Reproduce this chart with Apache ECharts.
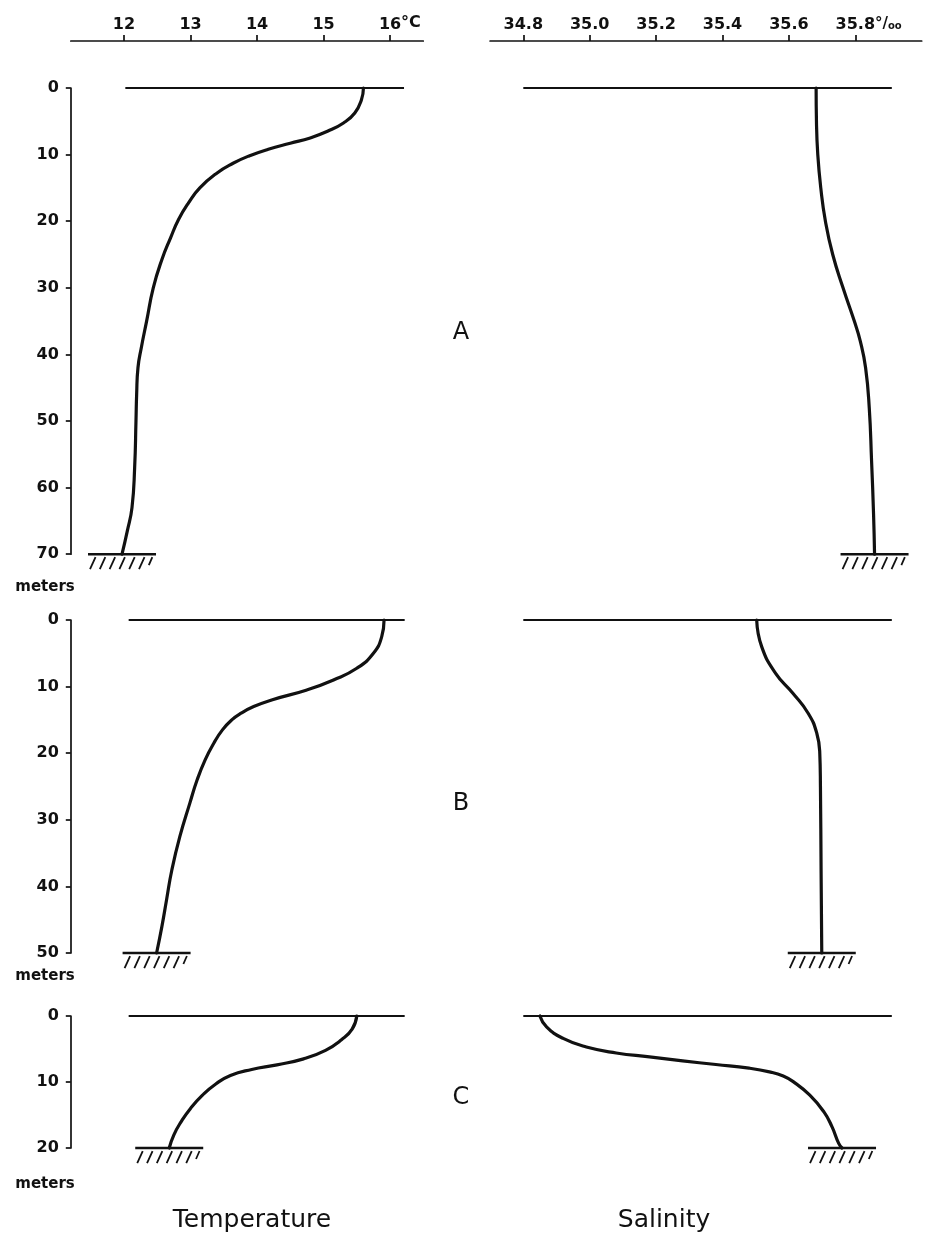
<!DOCTYPE html>
<html>
<head>
<meta charset="utf-8">
<script src="https://cdn.jsdelivr.net/npm/echarts@6/dist/echarts.min.js"></script>
<style>
  html, body { margin: 0; padding: 0; background: #fff; }
  #chart { width: 932px; height: 1250px; }
</style>
</head>
<body>
<div id="chart"></div>
<script>
// Tick labels of the two shared top axes
const tempTicks = [12, 13, 14, 15, 16];
const salTicks = [34.8, 35.0, 35.2, 35.4, 35.6, 35.8];

// Stations and their bottom depth (m)
const stations = ['A', 'B', 'C'];
const bottomDepth = [70, 50, 20];

// Station A – temperature (°C) and salinity (‰) against depth (m)
const tempA_depth = [0, 1.75, 3.75, 5.25, 6.5, 7.5, 8.3, 9.2, 10.2, 11.3, 12.75, 15, 17.25, 19.75, 22.5, 25.75, 30, 35, 39, 42, 46, 50, 57, 63, 66.5, 70];
const tempA = [15.60, 15.57, 15.47, 15.30, 15.06, 14.80, 14.50, 14.17, 13.88, 13.64, 13.40, 13.14, 12.97, 12.82, 12.70, 12.57, 12.44, 12.34, 12.26, 12.21, 12.19, 12.18, 12.16, 12.12, 12.05, 11.97];
const salA_depth = [0, 5, 10, 15, 20, 25, 30, 35, 38, 42, 48, 56, 64, 70];
const salA = [35.682, 35.683, 35.687, 35.696, 35.710, 35.732, 35.763, 35.797, 35.815, 35.831, 35.842, 35.849, 35.855, 35.858];

// Station B
const tempB_depth = [0, 2.5, 5, 7.25, 9, 10.5, 12, 13, 14, 15, 16.5, 18.5, 21, 24, 27.5, 32.5, 37.5, 42, 46, 50];
const tempB = [15.91, 15.875, 15.75, 15.50, 15.15, 14.75, 14.22, 13.95, 13.76, 13.62, 13.48, 13.35, 13.22, 13.10, 12.99, 12.84, 12.72, 12.64, 12.57, 12.49];
const salB_depth = [0, 4, 8, 11, 14, 17, 20, 25, 38, 50];
const salB = [35.503, 35.518, 35.560, 35.612, 35.658, 35.684, 35.693, 35.695, 35.697, 35.699];

// Station C
const tempC_depth = [0, 2, 3.6, 5.2, 6.5, 7.4, 8.1, 9.0, 10.3, 12, 14, 16, 18, 20];
const tempC = [15.50, 15.43, 15.27, 15.03, 14.70, 14.30, 13.92, 13.60, 13.38, 13.18, 13.00, 12.86, 12.75, 12.68];
const salC_depth = [0, 1.65, 3.4, 4.7, 5.6, 6.2, 6.8, 7.35, 7.9, 8.5, 9.1, 9.95, 12.0, 14.5, 16.8, 19.3, 20];
const salC = [34.85, 34.87, 34.92, 34.99, 35.08, 35.18, 35.28, 35.38, 35.48, 35.545, 35.583, 35.613, 35.663, 35.705, 35.73, 35.75, 35.76];

// Extent of the sea-surface line in each panel
const surfaceTemp = [[12.02, 16.21], [12.07, 16.22], [12.07, 16.22]];
const surfaceSal = [[34.80, 35.91], [34.80, 35.91], [34.80, 35.91]];

const tempProfiles = [[tempA, tempA_depth], [tempB, tempB_depth], [tempC, tempC_depth]];
const salProfiles = [[salA, salA_depth], [salB, salB_depth], [salC, salC_depth]];

const ink = '#111';
const font = 'DejaVu Sans';
const panelTop = [88, 620, 1016];
const pxPerMeter = [6.66, 6.66, 6.6];

const zip = (vals, depths) => vals.map((v, k) => [v, depths[k]]);

// Sea floor: a short bar with hatching beneath, centred on the profile end
function seaFloor(params, api) {
  const p = api.coord([api.value(0), api.value(1)]);
  const half = 34;
  const children = [{
    type: 'line',
    shape: { x1: p[0] - half, y1: p[1], x2: p[0] + half, y2: p[1] },
    style: { stroke: ink, lineWidth: 2.6 }
  }];
  for (let k = 0; k < 7; k++) {
    const x = p[0] - half + 2 + k * 9.8;
    const short = k === 6;
    children.push({
      type: 'line',
      shape: { x1: x, y1: p[1] + (short ? 11 : 15), x2: x + (short ? 3.5 : 5.5), y2: p[1] + 3 },
      style: { stroke: ink, lineWidth: 1.8 }
    });
  }
  return { type: 'group', children };
}

const grids = [], xAxes = [], yAxes = [], series = [];

stations.forEach((st, i) => {
  const h = bottomDepth[i] * pxPerMeter[i];
  const top = panelTop[i];
  const first = i === 0;
  // temperature panel, salinity panel
  grids.push({ left: 70.8, top: top, width: 352.5, height: h });
  grids.push({ left: 490.1, top: top, width: 431.6, height: h });

  const axisCommon = {
    type: 'value', position: 'top', offset: top - 41, show: first,
    axisLine: { show: true, onZero: false, lineStyle: { color: ink, width: 1.7 } },
    splitLine: { show: false }
  };
  xAxes.push(Object.assign({}, axisCommon, {
    gridIndex: 2 * i, min: 11.2, max: 16.5,
    axisTick: { show: true, customValues: tempTicks, length: 6, lineStyle: { color: ink, width: 1.7 } },
    axisLabel: { customValues: tempTicks, margin: 8, color: ink, fontFamily: font, fontWeight: 'bold', fontSize: 16 }
  }));
  xAxes.push(Object.assign({}, axisCommon, {
    gridIndex: 2 * i + 1, min: 34.7, max: 36.0,
    axisTick: { show: true, customValues: salTicks, length: 6, lineStyle: { color: ink, width: 1.7 } },
    axisLabel: { customValues: salTicks, margin: 8, color: ink, fontFamily: font, fontWeight: 'bold', fontSize: 16,
      formatter: v => v.toFixed(1) }
  }));

  const depthAxis = {
    type: 'value', inverse: true, min: 0, max: bottomDepth[i], interval: 10,
    axisLine: { show: true, onZero: false, lineStyle: { color: ink, width: 1.7 } },
    axisTick: { show: true, length: 5, lineStyle: { color: ink, width: 1.7 } },
    axisLabel: { margin: 12, color: ink, fontFamily: font, fontWeight: 'bold', fontSize: 16 },
    splitLine: { show: false }
  };
  yAxes.push(Object.assign({ gridIndex: 2 * i }, depthAxis));
  yAxes.push(Object.assign({ gridIndex: 2 * i + 1, show: false }, depthAxis));

  const panels = [
    { idx: 2 * i, surf: surfaceTemp[i], prof: tempProfiles[i] },
    { idx: 2 * i + 1, surf: surfaceSal[i], prof: salProfiles[i] }
  ];
  panels.forEach(pn => {
    series.push({
      type: 'line', xAxisIndex: pn.idx, yAxisIndex: pn.idx, clip: false,
      data: [[pn.surf[0], 0], [pn.surf[1], 0]],
      showSymbol: false, symbol: 'none', silent: true,
      lineStyle: { color: ink, width: 2 }
    });
    const pts = zip(pn.prof[0], pn.prof[1]);
    series.push({
      type: 'line', xAxisIndex: pn.idx, yAxisIndex: pn.idx, clip: false,
      data: pts, showSymbol: false, symbol: 'none', silent: true, smooth: 0.5,
      lineStyle: { color: ink, width: 3.2, cap: 'round', join: 'round' }
    });
    series.push({
      type: 'custom', xAxisIndex: pn.idx, yAxisIndex: pn.idx, clip: false, silent: true,
      data: [pts[pts.length - 1]], renderItem: seaFloor
    });
  });
});

function txt(text, x, y, size, weight, align) {
  return {
    type: 'text', x: x, y: y, silent: true,
    style: {
      text: text, fill: ink,
      font: (weight || 'normal') + ' ' + size + 'px "' + font + '"',
      align: align || 'center', textAlign: align || 'center',
      verticalAlign: 'middle', textVerticalAlign: 'middle'
    }
  };
}

const graphics = [
  txt('°C', 401, 23, 16, 'bold', 'left'),
  {
    type: 'text', x: 875, y: 24, silent: true,
    style: {
      text: '{d|°/}{o|oo}', align: 'left', textAlign: 'left', verticalAlign: 'middle', textVerticalAlign: 'middle',
      rich: {
        d: { fontFamily: font, fontWeight: 'bold', fontSize: 15, fill: ink, color: ink },
        o: { fontFamily: font, fontWeight: 'bold', fontSize: 10, fill: ink, color: ink, verticalAlign: 'bottom' }
      }
    }
  },
  txt('A', 461, 333, 24),
  txt('B', 461, 804, 24),
  txt('C', 461, 1098, 24),
  txt('meters', 45, 587, 15, 'bold'),
  txt('meters', 45, 976, 15, 'bold'),
  txt('meters', 45, 1184, 15, 'bold'),
  txt('Temperature', 252, 1220, 25),
  txt('Salinity', 664, 1220, 25)
];

const chart = echarts.init(document.getElementById('chart'), null, { renderer: 'canvas' });
chart.setOption({
  backgroundColor: '#fff',
  animation: false,
  grid: grids,
  xAxis: xAxes,
  yAxis: yAxes,
  series: series,
  graphic: graphics
});
</script>
</body>
</html>
